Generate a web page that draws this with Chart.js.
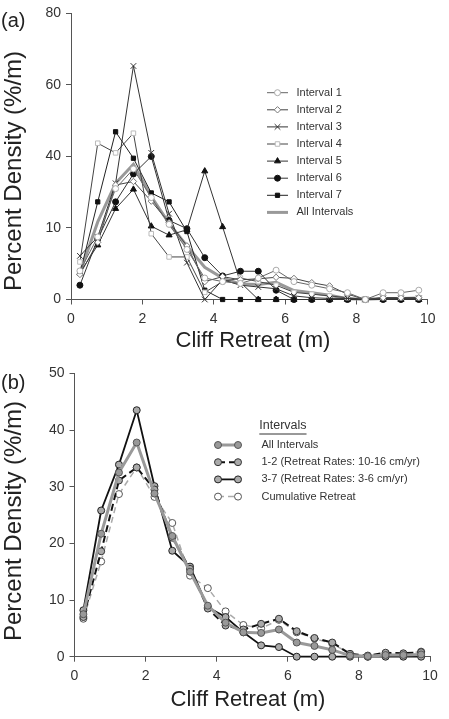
<!DOCTYPE html>
<html>
<head>
<meta charset="utf-8">
<script src="https://cdn.jsdelivr.net/npm/chart.js@4.4.0/dist/chart.umd.min.js"></script>
<style>
  html, body { margin:0; padding:0; background:#fff; }
  body { width:449px; height:719px; position:relative; overflow:hidden; font-family:"Liberation Sans", Arial, sans-serif; }
  #wa { position:absolute; left:0; top:0; }
  #wb { position:absolute; left:0; top:360px; }
  .plab { position:absolute; left:1px; font-size:20px; color:#222; line-height:20px; }
</style>
</head>
<body>
<div id="wa"><canvas id="ca" width="449" height="360"></canvas></div>
<div id="wb"><canvas id="cb" width="449" height="359"></canvas></div>
<div class="plab" style="top:10px;">(a)</div>
<div class="plab" style="top:372px;">(b)</div>
<script>
// ---------- data ----------
const retreatBins = [0.25, 0.75, 1.25, 1.75, 2.25, 2.75, 3.25, 3.75, 4.25, 4.75,
                     5.25, 5.75, 6.25, 6.75, 7.25, 7.75, 8.25, 8.75, 9.25, 9.75];

const interval1 = [8.0, 17.5, 31.0, 36.5, 28.5, 21.0, 14.0, 6.0, 5.0, 4.5, 6.0, 8.2, 5.0, 4.0, 3.0, 1.9, 0.0, 1.9, 1.9, 2.6];
const interval2 = [7.0, 16.0, 32.0, 33.0, 27.5, 21.5, 15.0, 5.0, 6.4, 5.5, 5.8, 6.2, 5.9, 4.7, 3.8, 1.5, 0.0, 0.5, 0.5, 0.5];
const interval3 = [12.2, 17.5, 32.5, 65.3, 41.0, 24.0, 10.3, 0.0, 5.5, 4.0, 3.5, 3.0, 1.0, 0.5, 0.3, 0.3, 0.0, 0.3, 0.3, 0.3];
const interval4 = [10.5, 43.7, 41.0, 46.5, 18.4, 11.9, 11.9, 2.0, 5.0, 6.0, 5.0, 4.0, 2.0, 1.5, 1.0, 0.5, 0.0, 0.5, 0.5, 0.5];
const interval5 = [7.5, 15.2, 25.4, 30.8, 20.5, 18.0, 19.5, 35.9, 20.3, 4.8, 0.0, 0.0, 0.0, 0.0, 0.0, 0.0, 0.0, 0.0, 0.0, 0.0];
const interval6 = [4.0, 17.0, 27.3, 35.1, 40.0, 22.1, 19.8, 11.7, 6.6, 7.9, 7.9, 2.6, 0.0, 0.0, 0.0, 0.0, 0.0, 0.0, 0.0, 0.0];
const interval7 = [7.3, 27.3, 46.9, 39.5, 29.8, 27.3, 19.0, 2.6, 0.0, 0.0, 0.0, 0.0, 0.0, 0.0, 0.0, 0.0, 0.0, 0.0, 0.0, 0.0];
const allIntervals = [7.5, 21.7, 32.5, 37.8, 28.8, 21.3, 15.0, 9.0, 6.0, 4.3, 4.2, 4.8, 2.5, 1.9, 1.2, 0.2, 0.1, 0.3, 0.3, 0.4];

const rates1to2 = [7.0, 18.6, 31.1, 33.4, 29.5, 21.0, 15.5, 8.5, 5.5, 4.8, 5.8, 6.7, 4.5, 3.3, 2.5, 0.5, 0.2, 0.7, 0.6, 0.8];
const rates3to7 = [8.2, 25.8, 33.9, 43.5, 30.1, 18.7, 15.9, 8.7, 7.0, 4.3, 2.0, 1.7, 0.0, 0.0, 0.0, 0.0, 0.0, 0.0, 0.0, 0.0];
const cumulativeRetreat = [6.7, 16.8, 28.7, 33.4, 28.2, 23.6, 14.3, 12.1, 8.0, 5.6, 5.0, 6.5, 4.3, 3.2, 2.3, 0.5, 0.0, 0.5, 0.5, 0.9];

const yTickValuesA = [0, 20, 40, 60, 80];
const yTickLabelsA = ['0', '10', '40', '60', '80'];
const yTickValuesB = [0, 10, 20, 30, 40, 50];
const yTickLabelsB = ['0', '10', '20', '30', '40', '50'];
const xTickValues = [0, 2, 4, 6, 8, 10];
const xTickLabels = ['0', '2', '4', '6', '8', '10'];

const xAxisTitle = 'Cliff Retreat (m)';
const yAxisTitle = 'Percent Density (%/m)';
const legendTitleB = 'Intervals';
// ---------- end data ----------

const FAM = '"Liberation Sans", Arial, Helvetica, sans-serif';
const pts = arr => arr.map((v, i) => ({x: retreatBins[i], y: v}));

const titlePlugin = {
  id: 'axisTitles',
  afterDraw(chart) {
    const o = chart.options.plugins.axisTitles;
    if (!o) return;
    const ctx = chart.ctx;
    ctx.save();
    ctx.fillStyle = '#222';
    ctx.textAlign = 'center';
    ctx.textBaseline = 'middle';
    ctx.font = '22px ' + FAM;
    ctx.fillText(xAxisTitle, o.xTitleX, o.xTitleY);
    ctx.translate(o.yTitleX, o.yTitleY);
    ctx.rotate(-Math.PI / 2);
    ctx.font = '24px ' + FAM;
    ctx.fillText(yAxisTitle, 0, 0);
    ctx.restore();
  }
};

const legendPlugin = {
  id: 'customLegend',
  afterDraw(chart) {
    const o = chart.options.plugins.customLegend;
    if (!o) return;
    const ctx = chart.ctx;
    ctx.save();
    if (o.title) {
      ctx.font = o.titleFont;
      ctx.fillStyle = '#333';
      ctx.textBaseline = 'middle';
      ctx.textAlign = 'left';
      ctx.fillText(o.title, o.titleX, o.titleY);
      const w = ctx.measureText(o.title).width;
      ctx.strokeStyle = '#333'; ctx.lineWidth = 1;
      ctx.beginPath(); ctx.moveTo(o.titleX, o.titleY + 8.5); ctx.lineTo(o.titleX + w, o.titleY + 8.5); ctx.stroke();
    }
    chart.data.datasets.forEach((ds, i) => {
      const cy = o.y + i * o.spacing;
      ctx.strokeStyle = ds.borderColor;
      ctx.lineWidth = ds.borderWidth;
      ctx.setLineDash(ds.borderDash || []);
      ctx.beginPath(); ctx.moveTo(o.x1, cy); ctx.lineTo(o.x2, cy); ctx.stroke();
      ctx.setLineDash([]);
      if (ds.pointRadius > 0) {
        const ps = {pointStyle: ds.pointStyle, radius: ds.pointRadius, borderWidth: ds.pointBorderWidth, rotation: 0};
        const mk = (px) => {
          ctx.fillStyle = ds.pointBackgroundColor;
          ctx.strokeStyle = ds.pointBorderColor;
          ctx.lineWidth = ds.pointBorderWidth;
          Chart.helpers.drawPoint(ctx, ps, px, cy);
        };
        if (o.twoMarkers) { mk(o.x1); mk(o.x2); } else { mk((o.x1 + o.x2) / 2); }
      }
      ctx.fillStyle = '#333';
      ctx.font = o.font;
      ctx.textBaseline = 'middle';
      ctx.textAlign = 'left';
      ctx.fillText(ds.label, o.textX, cy);
    });
    ctx.restore();
  }
};

function makeScales(yMax, yStep, yVals, yLabs, yWidth, xHeight) {
  return {
    x: {
      type: 'linear', min: 0, max: 10,
      ticks: { stepSize: 2, color: '#333', font: {size: 14, family: FAM}, padding: 6,
               callback: v => xTickLabels[xTickValues.indexOf(v)] },
      grid: { drawOnChartArea: false, drawTicks: true, tickLength: 5, color: '#555' },
      border: { color: '#555', width: 1 },
      title: { display: false },
      afterFit(s) { s.height = xHeight; }
    },
    y: {
      type: 'linear', min: 0, max: yMax,
      ticks: { stepSize: yStep, color: '#333', font: {size: 14, family: FAM}, padding: 5,
               callback: v => yLabs[yVals.indexOf(v)] },
      grid: { drawOnChartArea: false, drawTicks: true, tickLength: 5, color: '#555' },
      border: { color: '#555', width: 1 },
      title: { display: false },
      afterFit(s) { s.width = yWidth; }
    }
  };
}

const lineA = (label, arr, style, bg, bc, radius, lineColor) => ({
  label, data: pts(arr), borderColor: lineColor || '#3a3a3a', borderWidth: 1,
  pointStyle: style, pointRadius: radius, pointBackgroundColor: bg, pointBorderColor: bc,
  pointBorderWidth: 1, tension: 0, clip: false
});

new Chart(document.getElementById('ca'), {
  type: 'line',
  data: {
    datasets: [
      lineA('Interval 1', interval1, 'circle', '#fff', '#aaa', 3, '#666'),
      lineA('Interval 2', interval2, 'rectRot', '#fff', '#777', 3.2, '#444'),
      lineA('Interval 3', interval3, 'crossRot', '#333', '#333', 4, '#333'),
      lineA('Interval 4', interval4, 'rect', '#fff', '#bbb', 3.2, '#444'),
      lineA('Interval 5', interval5, 'triangle', '#111', '#111', 3.5, '#333'),
      lineA('Interval 6', interval6, 'circle', '#111', '#111', 3, '#333'),
      lineA('Interval 7', interval7, 'rect', '#111', '#111', 3, '#222'),
      { label: 'All Intervals', data: pts(allIntervals), borderColor: '#999', borderWidth: 3,
        pointRadius: 0, tension: 0, clip: false }
    ]
  },
  options: {
    responsive: false, animation: false,
    layout: { padding: { top: 12.5, right: 21.3, left: 0, bottom: 0 } },
    plugins: {
      legend: { display: false }, tooltip: { enabled: false },
      customLegend: { x1: 267, x2: 288, textX: 296.5, y: 92.7, spacing: 17.1,
                      font: '11px ' + FAM, twoMarkers: false },
      axisTitles: { xTitleX: 253, xTitleY: 341, yTitleX: 14, yTitleY: 171 }
    },
    scales: makeScales(80, 20, yTickValuesA, yTickLabelsA, 71, 60.5)
  },
  plugins: [legendPlugin, titlePlugin]
});

new Chart(document.getElementById('cb'), {
  type: 'line',
  data: {
    datasets: [
      { label: 'All Intervals', data: pts(allIntervals), borderColor: '#999', borderWidth: 3,
        pointStyle: 'circle', pointRadius: 3.5, pointBackgroundColor: '#999', pointBorderColor: '#555',
        pointBorderWidth: 1, tension: 0, clip: false },
      { label: '1-2 (Retreat Rates: 10-16 cm/yr)', data: pts(rates1to2), borderColor: '#111', borderWidth: 2,
        borderDash: [7, 4], pointStyle: 'circle', pointRadius: 3.5, pointBackgroundColor: '#aaa',
        pointBorderColor: '#333', pointBorderWidth: 1, tension: 0, clip: false },
      { label: '3-7 (Retreat Rates: 3-6 cm/yr)', data: pts(rates3to7), borderColor: '#111', borderWidth: 1.8,
        pointStyle: 'circle', pointRadius: 3.5, pointBackgroundColor: '#aaa', pointBorderColor: '#222',
        pointBorderWidth: 1, tension: 0, clip: false },
      { label: 'Cumulative Retreat', data: pts(cumulativeRetreat), borderColor: '#aaa', borderWidth: 1.5,
        borderDash: [6, 4], pointStyle: 'circle', pointRadius: 3.5, pointBackgroundColor: '#fff',
        pointBorderColor: '#555', pointBorderWidth: 1, tension: 0, clip: false }
    ]
  },
  options: {
    responsive: false, animation: false,
    layout: { padding: { top: 10.7, right: 19, left: 0, bottom: 0 } },
    plugins: {
      legend: { display: false }, tooltip: { enabled: false },
      customLegend: { x1: 218, x2: 238, textX: 261.5, y: 85, spacing: 17.2,
                      font: '11px ' + FAM, twoMarkers: true,
                      title: legendTitleB, titleX: 259.3, titleY: 65.5, titleFont: '12.5px ' + FAM },
      axisTitles: { xTitleX: 248, xTitleY: 340, yTitleX: 14, yTitleY: 161 }
    },
    scales: makeScales(50, 10, yTickValuesB, yTickLabelsB, 74.5, 62.3)
  },
  plugins: [legendPlugin, titlePlugin]
});
</script>
</body>
</html>
